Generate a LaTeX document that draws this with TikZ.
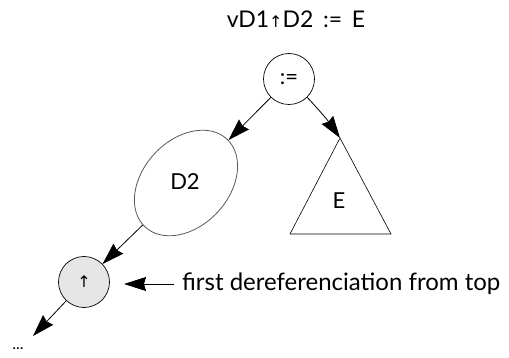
\documentclass[tikz,border=0pt]{standalone}
\usepackage{fontspec}
\setmainfont{Lato}
\newfontfamily\symfont{DejaVu Sans}
\usetikzlibrary{arrows.meta,shapes.geometric}
\begin{document}
\begin{tikzpicture}[x=1pt,y=-1pt,
  lbl/.style={font=\fontsize{22}{26}\selectfont, inner sep=2pt},
  arr/.style={-{Stealth[length=22pt,width=14pt,inset=2pt]}, line width=0.8pt},
  circ/.style={circle,draw,line width=0.7pt,minimum size=51pt,inner sep=0pt}]
\useasboundingbox[fill=white] (0,0) rectangle (509,358);
\node[lbl,font=\fontsize{23}{26}\selectfont] (title) at (296,19) {vD1{\symfont\fontsize{16}{18}\selectfont ↑}D2 \,:=\, E};
\node[circ,font=\fontsize{22}{24}\selectfont] (asg) at (289,79) {:=};
\node[ellipse,draw=black!65,line width=0.8pt,minimum width=120pt,minimum height=86pt,inner sep=0pt,rotate=47] (d2) at (186,183) {};
\node[lbl] (d2t) at (185,182) {D2};
\coordinate (apex) at (340,138);
\coordinate (bl) at (290,234);
\coordinate (br) at (391,234);
\draw[line width=0.6pt] (apex) -- (bl) -- (br) -- cycle;
\node[lbl] (E) at (339,201) {E};
\node[circ,fill=black!10,font=\symfont\fontsize{16}{16}\selectfont] (up) at (84,282) {↑};
\coordinate (end) at (33,336);
\node[font=\fontsize{16}{16}\selectfont] (dots) at (18,349) {...};
\node[lbl,font=\fontsize{24}{28}\selectfont,anchor=west] (note) at (180,284) {first dereferenciation from top};
\coordinate (tip) at (124,284);
\draw[arr] (asg) -- (d2);
\draw[arr] (asg) to[bend left=4] (apex);
\draw[arr] (d2) -- (up);
\draw[arr] (up) -- (end);
\draw[arr] ([xshift=-6pt]note.west) -- (tip);
\end{tikzpicture}
\end{document}
